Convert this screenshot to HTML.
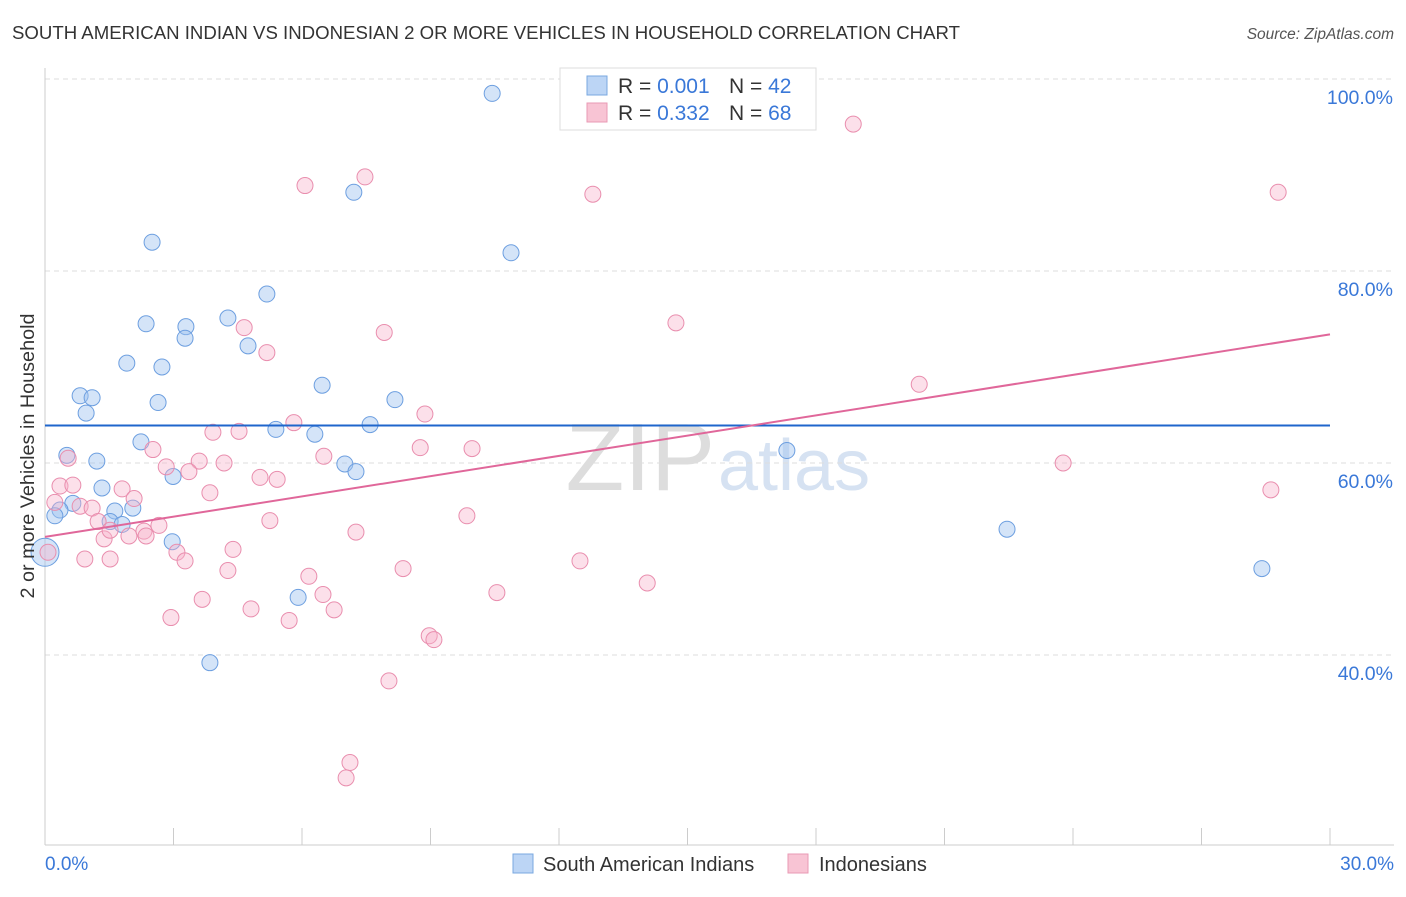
<!DOCTYPE html>
<html><head><meta charset="utf-8"><style>
body{margin:0;background:#fff;font-family:"Liberation Sans",sans-serif;}
svg text{font-family:"Liberation Sans",sans-serif;}
</style></head><body>
<svg id="chart" width="1406" height="892" xmlns="http://www.w3.org/2000/svg">
<text x="12" y="39" font-size="18" fill="#333" textLength="948" lengthAdjust="spacingAndGlyphs">SOUTH AMERICAN INDIAN VS INDONESIAN 2 OR MORE VEHICLES IN HOUSEHOLD CORRELATION CHART</text>
<text x="1394" y="39" font-size="15.5" fill="#555" text-anchor="end" font-style="italic">Source: ZipAtlas.com</text>
<text x="715" y="490" font-size="96" fill="#ddd" text-anchor="end" font-family="Liberation Serif">ZIP</text>
<text x="718" y="490" font-size="72" fill="#d6e2f2">atlas</text>
<g id="grid"></g><g id="axes"></g><g id="pts"></g><g id="lines"></g>
<text transform="translate(34,456) rotate(-90)" font-size="19" fill="#333" text-anchor="middle" textLength="285" lengthAdjust="spacingAndGlyphs">2 or more Vehicles in Household</text>
<g>
<rect x="560" y="68" width="256" height="62" fill="#fff" stroke="#ddd"/>
<rect x="587" y="76" width="20" height="19" fill="#bcd5f5" stroke="#7aa8e0"/>
<rect x="587" y="103" width="20" height="19" fill="#f8c4d4" stroke="#e99ab4"/>
<text x="618" y="93" font-size="21" fill="#333">R = <tspan fill="#3a78d8">0.001</tspan></text>
<text x="729" y="93" font-size="21" fill="#333">N = <tspan fill="#3a78d8">42</tspan></text>
<text x="618" y="120" font-size="21" fill="#333">R = <tspan fill="#3a78d8">0.332</tspan></text>
<text x="729" y="120" font-size="21" fill="#333">N = <tspan fill="#3a78d8">68</tspan></text>
</g>
<g>
<rect x="513" y="854" width="20" height="19" fill="#bcd5f5" stroke="#7aa8e0"/>
<text x="543" y="871" font-size="20" fill="#333">South American Indians</text>
<rect x="788" y="854" width="20" height="19" fill="#f8c4d4" stroke="#e99ab4"/>
<text x="819" y="871" font-size="20" fill="#333">Indonesians</text>
</g>
</svg>
<script>
const xTicks=[0,3,6,9,12,15,18,21,24,27,30];
const yTicks=[40,60,80,100];
const blueX=[10.44,7.21,2.5,10.88,5.18,2.36,4.27,3.29,3.27,4.74,1.91,2.73,6.47,0.82,1.1,2.64,0.96,8.17,7.59,5.39,6.3,2.24,0.51,1.21,17.32,7.0,7.26,2.99,1.33,0.65,0.35,0.23,1.63,2.05,1.52,1.8,2.97,22.46,0.0,5.91,28.41,3.85];
const blueY=[98.5,88.2,83.0,81.9,77.6,74.5,75.1,74.2,73.0,72.2,70.4,70.0,68.1,67.0,66.8,66.3,65.2,66.6,64.0,63.5,63.0,62.2,60.8,60.2,61.3,59.9,59.1,58.6,57.4,55.8,55.1,54.5,55.0,55.3,53.9,53.6,51.8,53.1,50.7,46.0,49.0,39.2];
const pinkX=[18.87,7.47,6.07,12.79,28.79,14.73,4.65,7.92,5.18,20.41,8.87,5.81,3.92,4.53,8.76,9.97,6.51,2.52,0.54,3.6,4.18,2.83,3.36,5.02,5.42,23.77,0.35,0.65,1.8,3.85,2.08,0.23,0.82,1.1,9.85,5.25,1.24,2.66,2.31,7.26,1.96,2.36,1.38,4.39,3.08,3.27,0.93,1.52,12.49,28.62,4.27,8.36,6.16,14.06,6.49,10.55,3.67,4.81,6.75,2.94,5.7,8.97,9.08,8.03,7.12,7.03,0.07,1.52];
const pinkY=[95.3,89.8,88.9,88.0,88.2,74.6,74.1,73.6,71.5,68.2,65.1,64.2,63.2,63.3,61.6,61.5,60.7,61.4,60.5,60.2,60.0,59.6,59.1,58.5,58.3,60.0,57.6,57.7,57.3,56.9,56.3,55.9,55.5,55.3,54.5,54.0,53.9,53.5,52.9,52.8,52.4,52.4,52.1,51.0,50.7,49.8,50.0,50.0,49.8,57.2,48.8,49.0,48.2,47.5,46.3,46.5,45.8,44.8,44.7,43.9,43.6,42.0,41.6,37.3,28.8,27.2,50.7,53.0];
const blueLine=[63.9,63.9];
const pinkLine=[52.3,73.4];
const X=v=>45+v*42.833, Y=v=>79+(100-v)*9.6;
const NS="http://www.w3.org/2000/svg";
function mk(p,t,a){const e=document.createElementNS(NS,t);for(const k in a)e.setAttribute(k,a[k]);document.getElementById(p).appendChild(e);return e;}
yTicks.forEach(t=>{
 const l=mk('grid','line',{x1:45,x2:1394,y1:Y(t),y2:Y(t),stroke:'#ddd','stroke-dasharray':'5,4'});
 
 
 const s=mk('grid','text',{x:1393,y:Y(t)+25,'font-size':19.5,fill:'#3a78d8','text-anchor':'end'});s.textContent=t.toFixed(1)+'%';
 
 
});
mk('axes','line',{x1:45,x2:45,y1:68,y2:845,stroke:'#ccc'});
mk('axes','line',{x1:45,x2:1394,y1:845,y2:845,stroke:'#ccc'});
xTicks.forEach(t=>{
 const l=mk('axes','line',{x1:X(t),x2:X(t),y1:828,y2:845,stroke:'#ccc'});
 
 
});
[[0,'start',45],[30,'end',1394]].forEach(([t,a,x])=>{
 const s=mk('axes','text',{x:x,y:870,'font-size':19,fill:'#3a78d8','text-anchor':a});s.textContent=t.toFixed(1)+'%';
 
 
});
blueX.forEach((v,i)=>{
 const c=mk('pts','circle',{cx:X(v),cy:Y(blueY[i]),r:(v===0?14:8),fill:'rgba(160,196,240,0.45)',stroke:'#6d9fe0','stroke-width':1});
 
 
});
pinkX.forEach((v,i)=>{
 const c=mk('pts','circle',{cx:X(v),cy:Y(pinkY[i]),r:8,fill:'rgba(247,178,202,0.4)',stroke:'#e98eae','stroke-width':1});
 
 
});
const bl=mk('lines','line',{x1:X(0),x2:X(30),y1:Y(blueLine[0]),y2:Y(blueLine[1]),stroke:'#1f66cc','stroke-width':2});


const pl=mk('lines','line',{x1:X(0),x2:X(30),y1:Y(pinkLine[0]),y2:Y(pinkLine[1]),stroke:'#e0679a','stroke-width':2});


</script>
</body></html>
